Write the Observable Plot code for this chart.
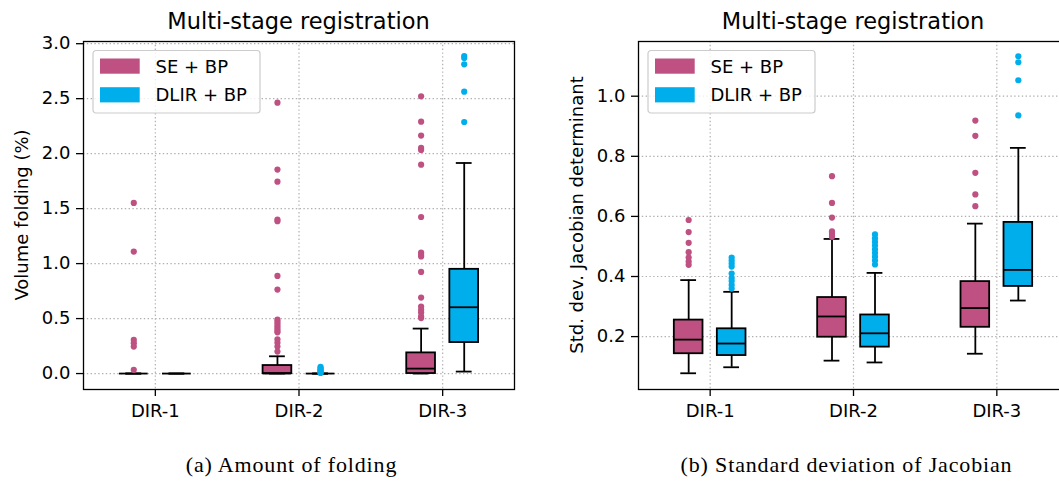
<!DOCTYPE html>
<html><head><meta charset="utf-8">
<script src="https://cdn.jsdelivr.net/npm/d3@7"></script>
<script src="https://cdn.jsdelivr.net/npm/@observablehq/plot@0.6"></script>
<style>
html,body{margin:0;padding:0;background:#fff;}
#fig{position:relative;width:1059px;height:481px;overflow:hidden;font-family:"DejaVu Sans",sans-serif;}
#fig > svg{position:absolute;top:0;}
</style></head><body><div id="fig"></div>
<script>
// ---------- data ----------
const categories = ["DIR-1", "DIR-2", "DIR-3"];
const series = ["SE + BP", "DLIR + BP"];
const seriesColors = ["#BE5182", "#00AEEC"];

// (a) Volume folding (%)
const foldSE_q1  = [0, 0, 0];
const foldSE_med = [0, 0, 0.045];
const foldSE_q3  = [0, 0.073, 0.188];
const foldSE_lo  = [0, 0, 0];
const foldSE_hi  = [0, 0.157, 0.409];
const foldSE_out = [
  [1.552, 1.109, 0.306, 0.276, 0.245, 0.034],
  [2.464, 1.855, 1.745, 1.40, 1.385, 0.888, 0.764, 0.49, 0.47, 0.45, 0.43, 0.41, 0.39, 0.375, 0.31, 0.28, 0.245, 0.20],
  [2.521, 2.291, 2.164, 2.052, 2.034, 1.90, 1.424, 1.10, 1.08, 1.065, 0.924, 0.691, 0.609, 0.58, 0.555, 0.52, 0.505]
];
const foldDL_q1  = [0, 0, 0.282];
const foldDL_med = [0, 0, 0.603];
const foldDL_q3  = [0, 0, 0.948];
const foldDL_lo  = [0, 0, 0.018];
const foldDL_hi  = [0, 0, 1.915];
const foldDL_out = [
  [],
  [0.06, 0.05, 0.04, 0.03, 0.02, 0.01, 0.005],
  [2.888, 2.870, 2.812, 2.564, 2.288]
];
const foldTicks = [0, 0.5, 1.0, 1.5, 2.0, 2.5, 3.0];

// (b) Std. dev. Jacobian determinant
const jacSE_q1  = [0.143, 0.198, 0.231];
const jacSE_med = [0.190, 0.267, 0.295];
const jacSE_q3  = [0.255, 0.330, 0.383];
const jacSE_lo  = [0.078, 0.120, 0.143];
const jacSE_hi  = [0.388, 0.525, 0.576];
const jacSE_out = [
  [0.588, 0.548, 0.512, 0.481, 0.463, 0.45, 0.439],
  [0.734, 0.645, 0.596, 0.55, 0.545, 0.538, 0.532],
  [0.919, 0.868, 0.745, 0.673, 0.634]
];
const jacDL_q1  = [0.137, 0.165, 0.367];
const jacDL_med = [0.177, 0.211, 0.422];
const jacDL_q3  = [0.226, 0.272, 0.580];
const jacDL_lo  = [0.098, 0.114, 0.320];
const jacDL_hi  = [0.349, 0.412, 0.828];
const jacDL_out = [
  [0.463, 0.453, 0.443, 0.433, 0.41, 0.395, 0.385, 0.372, 0.36],
  [0.54, 0.527, 0.515, 0.503, 0.49, 0.478, 0.466, 0.453, 0.44],
  [1.133, 1.113, 1.053, 0.936]
];
const jacTicks = [0.2, 0.4, 0.6, 0.8, 1.0];

const titles = ["Multi-stage registration", "Multi-stage registration"];
const yLabels = ["Volume folding (%)", "Std. dev. Jacobian determinant"];
const captions = ["(a) Amount of folding", "(b) Standard deviation of Jacobian"];

// ---------- build tables ----------
const OFFSET = 0.15, HALF = 0.1, CAP = 0.055;
function buildRows(stats) {
  const rows = [], fliers = [];
  stats.forEach((s, si) => {
    categories.forEach((c, i) => {
      const pos = i + 1 + (si === 0 ? -OFFSET : OFFSET);
      rows.push({series: series[si], cat: c, pos, q1: s.q1[i], med: s.med[i], q3: s.q3[i], lo: s.lo[i], hi: s.hi[i]});
      s.out[i].forEach(v => fliers.push({series: series[si], cat: c, pos, v}));
    });
  });
  return {rows, fliers};
}
const foldData = buildRows([
  {q1: foldSE_q1, med: foldSE_med, q3: foldSE_q3, lo: foldSE_lo, hi: foldSE_hi, out: foldSE_out},
  {q1: foldDL_q1, med: foldDL_med, q3: foldDL_q3, lo: foldDL_lo, hi: foldDL_hi, out: foldDL_out}
]);
const jacData = buildRows([
  {q1: jacSE_q1, med: jacSE_med, q3: jacSE_q3, lo: jacSE_lo, hi: jacSE_hi, out: jacSE_out},
  {q1: jacDL_q1, med: jacDL_med, q3: jacDL_q3, lo: jacDL_lo, hi: jacDL_hi, out: jacDL_out}
]);

const FONT = "DejaVu Sans";
const GRID = {stroke: "#b0b0b0", strokeOpacity: 1, strokeWidth: 1.2, strokeDasharray: "1.4,2.4"};
const LINE = {stroke: "black", strokeWidth: 1.8};

function panel({data, yDomain, yTicks, width, marginLeft, marginRight}) {
  const {rows, fliers} = data;
  return Plot.plot({
    width, height: 481, marginTop: 41, marginBottom: 92, marginLeft, marginRight,
    style: {fontFamily: FONT, fontSize: "18px", background: "transparent", overflow: "visible"},
    x: {type: "linear", domain: [0.5, 3.5]},
    y: {domain: yDomain},
    color: {domain: series, range: seriesColors},
    marks: [
      Plot.gridX([1, 2, 3], GRID),
      Plot.gridY(yTicks, GRID),
      Plot.ruleX(rows, {x: "pos", y1: "q3", y2: "hi", ...LINE}),
      Plot.ruleX(rows, {x: "pos", y1: "lo", y2: "q1", ...LINE}),
      Plot.ruleY(rows, {y: "hi", x1: d => d.pos - CAP, x2: d => d.pos + CAP, ...LINE}),
      Plot.ruleY(rows, {y: "lo", x1: d => d.pos - CAP, x2: d => d.pos + CAP, ...LINE}),
      Plot.rect(rows, {x1: d => d.pos - HALF, x2: d => d.pos + HALF, y1: "q1", y2: "q3", fill: "series", ...LINE}),
      Plot.ruleY(rows, {y: "med", x1: d => d.pos - HALF, x2: d => d.pos + HALF, ...LINE}),
      Plot.dot(fliers, {x: "pos", y: "v", fill: "series", r: 3.1, stroke: null}),
      Plot.frame({stroke: "black", strokeWidth: 1.3}),
      Plot.axisX({ticks: [1, 2, 3], tickFormat: d => categories[d - 1], tickSize: 7, tickPadding: 8, fontSize: 18, strokeWidth: 1.3, label: null}),
      Plot.axisY({ticks: yTicks, tickFormat: d3.format(".1f"), tickSize: 7, tickPadding: 6, fontSize: 18, strokeWidth: 1.3, label: null})
    ]
  });
}

const fig = document.getElementById("fig");
const pA = panel({data: foldData, yDomain: [-0.145, 3.02], yTicks: foldTicks, width: 530, marginLeft: 83, marginRight: 16});
pA.style.left = "0px";
fig.appendChild(pA);
const pB = panel({data: jacData, yDomain: [0.024, 1.182], yTicks: jacTicks, width: 560, marginLeft: 108, marginRight: 22});
pB.style.left = "530px";
fig.appendChild(pB);

// ---------- overlay: titles, y labels, legends, captions ----------
const ov = d3.select(fig).append("svg").attr("width", 1059).attr("height", 481)
  .style("left", "0px").attr("font-family", FONT);
const frames = [{x0: 83, x1: 514, cap: 291.5, yl: 21}, {x0: 638, x1: 1068, cap: 846.5, yl: 576}];
frames.forEach((f, k) => {
  ov.append("text").attr("x", (f.x0 + f.x1) / 2).attr("y", 28.5).attr("text-anchor", "middle")
    .attr("font-size", 22.5).text(titles[k]);
  ov.append("text").attr("transform", `translate(${f.yl},${(41 + 389) / 2}) rotate(-90)`)
    .attr("text-anchor", "middle").attr("dominant-baseline", "central").attr("font-size", 18).text(yLabels[k]);
  ov.append("text").attr("x", f.cap).attr("y", 472).attr("text-anchor", "middle")
    .attr("font-family", "Liberation Serif").attr("font-size", 22).attr("letter-spacing", 0.85).text(captions[k]);
  // legend
  const lx = f.x0 + 10, ly = 50.5;
  const g = ov.append("g").attr("transform", `translate(${lx},${ly})`);
  g.append("rect").attr("width", 167).attr("height", 62.5).attr("rx", 3)
    .attr("fill", "white").attr("fill-opacity", 0.8).attr("stroke", "#cccccc").attr("stroke-width", 1.2);
  series.forEach((s, i) => {
    g.append("rect").attr("x", 7).attr("y", 8 + i * 28.7).attr("width", 39.7).attr("height", 15.2).attr("fill", seriesColors[i]);
    g.append("text").attr("x", 62.5).attr("y", 22 + i * 28.7).attr("font-size", 18).text(s);
  });
});
</script></body></html>
